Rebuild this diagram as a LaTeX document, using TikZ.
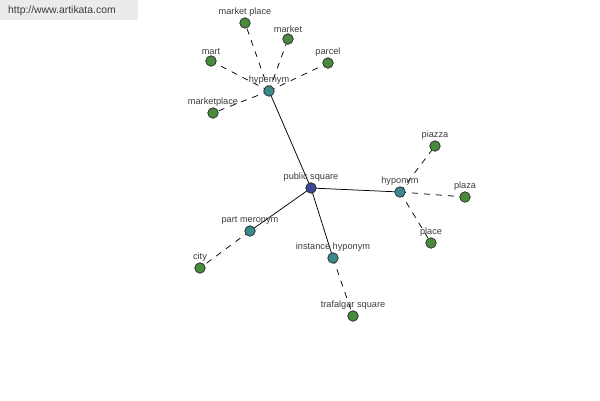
\documentclass[tikz,border=0pt]{standalone}
\usepackage{fontspec}
\setmainfont{Liberation Sans}
\usetikzlibrary{backgrounds}
\definecolor{leafgreen}{RGB}{74,138,62}
\definecolor{relteal}{RGB}{58,138,140}
\definecolor{rootblue}{RGB}{60,72,150}
\definecolor{labelgray}{RGB}{60,60,60}
\tikzset{
  wnode/.style={circle, draw=black!85, line width=0.7pt, minimum size=10.5pt, inner sep=0pt,
    label={[text=labelgray, font=\fontsize{9.2}{10}\selectfont, inner sep=1pt]above:#1}},
  leaf/.style={wnode=#1, fill=leafgreen},
  rel/.style={wnode=#1, fill=relteal},
  root/.style={wnode=#1, fill=rootblue},
  rellink/.style={black, line width=0.75pt},
  leaflink/.style={black, line width=0.75pt, dash pattern=on 6pt off 6pt}
}
\begin{document}
\begin{tikzpicture}[x=1pt,y=-1pt]
  \useasboundingbox (0,0) rectangle (600,400);
  \fill[black!8] (0,0) rectangle (138,20);
  \node[anchor=west, text=labelgray, font=\fontsize{10.4}{11}\selectfont, inner sep=0pt] (site) at (8,11) {http://www.artikata.com};
  \node[root={public square}] (ps) at (311,188) {};
  \node[rel=hypernym] (hyper) at (269,91) {};
  \node[rel=hyponym] (hypo) at (400,192) {};
  \node[rel={part meronym}] (part) at (250,231) {};
  \node[rel={instance hyponym}] (inst) at (333,258) {};
  \node[leaf={market place}] (mplace) at (245,23) {};
  \node[leaf=market] (market) at (288,39) {};
  \node[leaf=mart] (mart) at (211,61) {};
  \node[leaf=parcel] (parcel) at (328,63) {};
  \node[leaf=marketplace] (mktplace) at (213,113) {};
  \node[leaf=piazza] (piazza) at (435,146) {};
  \node[leaf=plaza] (plaza) at (465,197) {};
  \node[leaf=place] (place) at (431,243) {};
  \node[leaf=city] (city) at (200,268) {};
  \node[leaf={trafalgar square}] (trafalgar) at (353,316) {};
  % links behind the nodes
  \begin{scope}[on background layer]
    \foreach \r in {hyper,hypo,part,inst}
      \draw[rellink] (ps.center)--(\r.center);
    \foreach \l/\r in {mplace/hyper,market/hyper,mart/hyper,parcel/hyper,mktplace/hyper,
                       piazza/hypo,plaza/hypo,place/hypo,city/part,trafalgar/inst}
      \draw[leaflink] (\r.center)--(\l.center);
  \end{scope}
\end{tikzpicture}
\end{document}
